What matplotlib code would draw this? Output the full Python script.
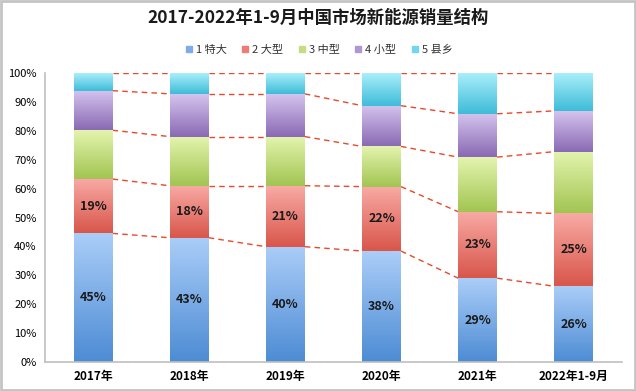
import numpy as np
import matplotlib
matplotlib.use("Agg")
from matplotlib import pyplot as plt
from matplotlib.colors import LinearSegmentedColormap
from matplotlib.lines import Line2D
from matplotlib.patches import Rectangle

plt.rcParams['font.family'] = ['Noto Sans CJK SC', 'DejaVu Sans']

years = ['2017年', '2018年', '2019年', '2020年', '2021年', '2022年1-9月']
series_names = ['1 特大', '2 大型', '3 中型', '4 小型', '5 县乡']

# shares in percent
tedai = [44.5, 43.0, 39.9, 38.4, 29.0, 26.2]
daxing = [18.8, 18.0, 21.1, 22.3, 23.0, 25.2]
zhongxing = [16.9, 17.0, 17.0, 13.9, 18.9, 21.4]
xiaoxing = [13.7, 14.8, 14.8, 14.1, 15.0, 14.1]
xianxiang = [6.1, 7.2, 7.2, 11.3, 14.1, 13.1]

label_tedai = ['45%', '43%', '40%', '38%', '29%', '26%']
label_daxing = ['19%', '18%', '21%', '22%', '23%', '25%']

# (top colour, bottom colour) for the gradient of each series
grads = [('#aacdf8', '#4d8cd4'),
         ('#f8aaa4', '#d9564b'),
         ('#e3f4ae', '#a2c552'),
         ('#d4c3ed', '#8a6ab4'),
         ('#a9eefa', '#3ebcd9')]
legend_cols = ['#7cacea', '#ec7d74', '#c3de80', '#b097d2', '#72d6ec']

data = np.array([tedai, daxing, zhongxing, xiaoxing, xianxiang])
bottoms = np.vstack([np.zeros(len(years)), np.cumsum(data, axis=0)[:-1]])
tops = bottoms + data

fig = plt.figure(figsize=(6.36, 3.91), dpi=100)
ax = fig.add_axes([0.0708, 0.0742, 0.907, 0.739])

width = 0.405
x = np.arange(len(years))
for s in range(len(series_names)):
    cmap = LinearSegmentedColormap.from_list('g%d' % s, [grads[s][1], grads[s][0]])
    grad = np.linspace(0, 1, 64).reshape(-1, 1)
    for i in x:
        ax.imshow(grad, extent=[i - width / 2, i + width / 2, bottoms[s][i], tops[s][i]],
                  origin='lower', cmap=cmap, aspect='auto', zorder=2)

# dashed connectors between the bars
for level in list(tops[:4]) + [np.full(len(years), 100.0)]:
    for i in range(len(years) - 1):
        ax.plot([i + width / 2, i + 1 - width / 2], [level[i], level[i + 1]],
                color='#e8492a', linestyle=(0, (4, 3)), linewidth=1, zorder=1)

for i in x:
    ax.text(i, tedai[i] / 2, label_tedai[i], ha='center', va='center',
            fontsize=9, fontweight='bold', color='#1a1a1a', zorder=3)
    ax.text(i, tedai[i] + daxing[i] / 2, label_daxing[i], ha='center', va='center',
            fontsize=9, fontweight='bold', color='#1a1a1a', zorder=3)

ax.set_xlim(-0.5, len(years) - 0.5)
ax.set_ylim(0, 100)
ax.set_yticks(np.arange(0, 101, 10))
ax.set_yticklabels(['%d%%' % v for v in range(0, 101, 10)], fontsize=8)
ax.set_xticks(x)
ax.set_xticklabels(years, fontsize=8.5, fontweight='bold')
ax.tick_params(length=0, pad=6)
for side in ['top', 'right']:
    ax.spines[side].set_visible(False)
ax.spines['left'].set_color('#bfbfbf')
ax.spines['bottom'].set_color('#bfbfbf')
ax.spines['left'].set_linewidth(1.2)
ax.spines['bottom'].set_linewidth(1.2)

fig.text(0.5, 0.954, '2017-2022年1-9月中国市场新能源销量结构', ha='center', va='center',
         fontsize=12.5, fontweight='bold', color='#1a1a1a')

handles = [Line2D([], [], marker='s', linestyle='', markersize=5,
                  markerfacecolor=legend_cols[s], markeredgecolor=legend_cols[s])
           for s in range(len(series_names))]
leg = fig.legend(handles, series_names, loc='center', bbox_to_anchor=(0.5, 0.872), ncol=5,
                 frameon=False, fontsize=8, handletextpad=0.1, columnspacing=1.2,
                 handlelength=1)
for t in leg.get_texts():
    t.set_color('#333333')

fig.patches.append(Rectangle((0.002, 0.003), 0.996, 0.994, transform=fig.transFigure,
                             fill=False, edgecolor='#c4c4c4', linewidth=2))

fig.savefig('out.png', dpi=100)
